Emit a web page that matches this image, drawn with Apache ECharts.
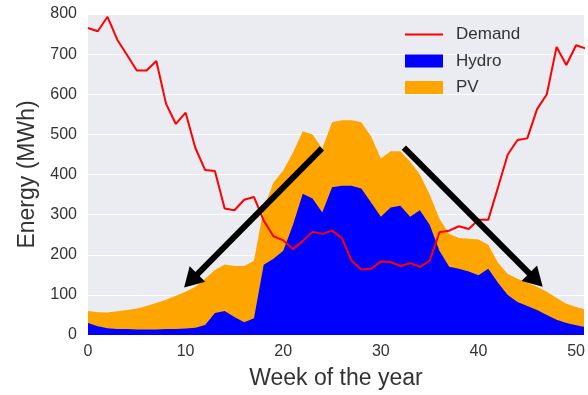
<!DOCTYPE html>
<html>
<head>
<meta charset="utf-8">
<style>
  html, body { margin: 0; padding: 0; background: #ffffff; }
  #chart { width: 588px; height: 395px; }
</style>
<script src="https://cdn.jsdelivr.net/npm/echarts@6/dist/echarts.min.js"></script>
</head>
<body>
<div id="chart"></div>
<script>
// Weekly energy balance: demand vs. hydro + PV supply (MWh)
const weeks = [0, 1, 2, 3, 4, 5, 6, 7, 8, 9, 10, 11, 12, 13, 14, 15, 16, 17, 18, 19,
  20, 21, 22, 23, 24, 25, 26, 27, 28, 29, 30, 31, 32, 33, 34, 35, 36, 37, 38, 39,
  40, 41, 42, 43, 44, 45, 46, 47, 48, 49, 50, 51];

const demand = [765, 757, 793, 736, 698, 659, 659, 683, 576, 526, 554, 466, 411, 409, 315, 311,
  337, 344, 285, 246, 236, 214, 234, 257, 252, 260, 242, 185, 163, 165, 183, 182,
  172, 179, 170, 185, 256, 260, 271, 264, 287, 287, 368, 450, 486, 490, 563, 600,
  718, 673, 722, 714];

const hydro = [30, 22, 17, 15, 15, 14, 14, 14, 15, 15, 16, 18, 25, 55, 60, 45,
  32, 42, 175, 190, 210, 275, 352, 340, 305, 368, 372, 372, 365, 330, 295, 318,
  322, 295, 311, 275, 210, 170, 165, 158, 149, 165, 130, 100, 82, 72, 62, 50,
  38, 30, 24, 20];

const pv = [30, 35, 39, 44, 47, 52, 58, 66, 73, 83, 92, 102, 115, 107, 116, 127,
  140, 143, 140, 190, 200, 180, 156, 160, 160, 162, 163, 163, 165, 165, 145, 140,
  136, 137, 89, 75, 80, 82, 77, 82, 89, 60, 50, 52, 58, 58, 58, 58,
  54, 48, 46, 43];

const yTicks = [0, 100, 200, 300, 400, 500, 600, 700, 800];
const xTicks = [0, 10, 20, 30, 40, 50];

// Annotation arrows in data space: [week, MWh] for tail and head centre
const arrowTails = [[23.96, 465], [32.36, 467]];
const arrowHeads = [[10.53, 135], [45.89, 137]];

const FONT = '"Liberation Sans", Arial, Helvetica, sans-serif';

// PV sits on top of hydro: its area is drawn from zero up to hydro + PV,
// and the hydro area is painted over it.
const hydroPts = weeks.map((w, i) => [w, hydro[i]]);
const supplyPts = weeks.map((w, i) => [w, hydro[i] + pv[i]]);
const demandPts = weeks.map((w, i) => [w, demand[i]]);

const chart = echarts.init(document.getElementById('chart'), null, { renderer: 'canvas' });

chart.setOption({
  animation: false,
  backgroundColor: '#ffffff',
  textStyle: { fontFamily: FONT },
  grid: {
    left: 88, right: 0, top: 14, bottom: 54,
    show: true, backgroundColor: '#EBEBF2', borderWidth: 0
  },
  legend: {
    orient: 'vertical',
    left: 404, top: 26, padding: 0,
    itemWidth: 38, itemHeight: 13, itemGap: 9.5,
    textStyle: { fontFamily: FONT, fontSize: 17, color: '#333333', padding: [0, 0, 0, 8] },
    data: [
      { name: 'Demand', itemStyle: { opacity: 0 }, lineStyle: { width: 2, color: '#FF0000' } },
      { name: 'Hydro', icon: 'rect' },
      { name: 'PV', icon: 'rect' }
    ]
  },
  xAxis: {
    type: 'value',
    min: 0, max: 50.8, interval: 10,
    name: 'Week of the year',
    nameLocation: 'middle',
    nameGap: 32,
    nameTextStyle: { fontFamily: FONT, fontSize: 23, color: '#333333' },
    axisLine: { show: false },
    axisTick: { show: false },
    axisLabel: {
      fontFamily: FONT, fontSize: 16, color: '#333333', margin: 9,
      formatter: (v) => (xTicks.indexOf(v) >= 0 ? String(v) : '')
    },
    splitLine: { show: false }
  },
  yAxis: {
    type: 'value',
    min: 0, max: 800, interval: 100,
    name: 'Energy (MWh)',
    nameLocation: 'middle',
    nameGap: 48,
    nameTextStyle: { fontFamily: FONT, fontSize: 23, color: '#333333' },
    axisLine: { show: false },
    axisTick: { show: false },
    axisLabel: {
      fontFamily: FONT, fontSize: 16, color: '#333333', margin: 11,
      formatter: (v) => (yTicks.indexOf(v) >= 0 ? String(v) : '')
    },
    splitLine: { show: true, lineStyle: { color: '#ffffff', width: 1 } }
  },
  series: [
    {
      name: 'PV',
      type: 'line',
      data: supplyPts,
      symbol: 'none',
      lineStyle: { width: 0 },
      itemStyle: { color: '#FFA500' },
      areaStyle: { color: '#FFA500', opacity: 1 },
      z: 2
    },
    {
      name: 'Hydro',
      type: 'line',
      data: hydroPts,
      symbol: 'none',
      lineStyle: { width: 0 },
      itemStyle: { color: '#0000FF' },
      areaStyle: { color: '#0000FF', opacity: 1 },
      z: 2
    },
    {
      name: 'Demand',
      type: 'line',
      data: demandPts,
      symbol: 'none',
      itemStyle: { color: '#FF0000' },
      lineStyle: { color: '#FF0000', width: 2 },
      z: 3,
      markLine: {
        silent: true,
        animation: false,
        symbol: ['none', 'triangle'],
        label: { show: false },
        lineStyle: { color: '#000000', width: 6, type: 'solid' },
        emphasis: { disabled: true },
        data: arrowTails.map((t, i) => [
          { coord: t, symbol: 'none' },
          { coord: arrowHeads[i], symbol: 'triangle', symbolSize: [22, 19] }
        ])
      }
    }
  ]
});
</script>
</body>
</html>
